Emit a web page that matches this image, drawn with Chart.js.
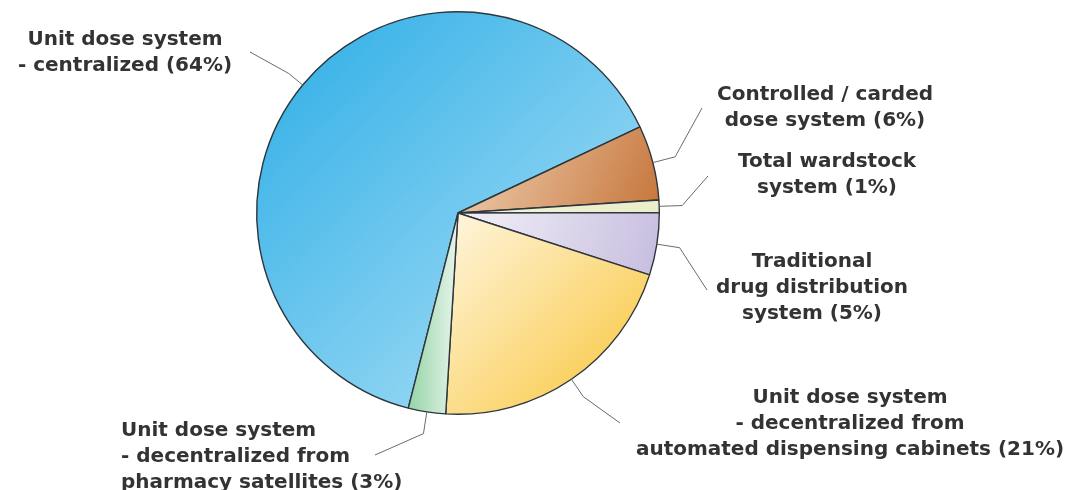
<!DOCTYPE html>
<html>
<head>
<meta charset="utf-8">
<title>Drug distribution systems</title>
<script src="https://cdn.jsdelivr.net/npm/chart.js@4.4.1/dist/chart.umd.min.js"></script>
<style>
    html, body {
        margin: 0;
        padding: 0;
        background: #ffffff;
    }
    #chartBox {
        position: relative;
        width: 1089px;
        height: 490px;
    }
</style>
</head>
<body>
<div id="chartBox">
    <canvas id="distributionChart"></canvas>
</div>

<script>
/* ================= DATA ================= */

const systems = [
    'Unit dose system - centralized',
    'Controlled / carded dose system',
    'Total wardstock system',
    'Traditional drug distribution system',
    'Unit dose system - decentralized from automated dispensing cabinets',
    'Unit dose system - decentralized from pharmacy satellites'
];

const shares = [64, 6, 1, 5, 21, 3];

// label text, the share in brackets is added from shares[]
const labelLines = [
    ['Unit dose system', '- centralized'],
    ['Controlled / carded', 'dose system'],
    ['Total wardstock', 'system'],
    ['Traditional', 'drug distribution', 'system'],
    ['Unit dose system', '- decentralized from', 'automated dispensing cabinets'],
    ['Unit dose system', '- decentralized from', 'pharmacy satellites']
];

// gradient colours: start -> end of each slice
const gradientFrom = ['#2badE6', '#f0d2b6', '#f3f5dc', '#f4f1f8', '#fff6e0', '#94d3a6'];
const gradientTo   = ['#b4e3f7', '#c6753a', '#e9edc8', '#c6bddf', '#f8c435', '#e8f6ec'];

// thin slices get a left -> right gradient instead of the diagonal one
const horizontalGradient = [false, false, false, false, false, true];

/* ================= LABEL LAYOUT ================= */

// text anchor (x, first line y), alignment and where the leader line ends
const labelPos = [
    { x: 125, y: 40,  align: 'center', end: [250, 52] },
    { x: 825, y: 95,  align: 'center', end: [702, 108] },
    { x: 827, y: 162, align: 'center', end: [708, 176] },
    { x: 812, y: 262, align: 'center', end: [707, 290] },
    { x: 850, y: 398, align: 'center', end: [620, 423] },
    { x: 121, y: 431, align: 'left',   end: [375, 455] }
];

const elbowLength = [18, 23, 23, 23, 21, 22];

const ROTATION = 194.3;
const LINE_HEIGHT = 26;

/* ================= SLICE GRADIENT ================= */

function sliceGradient(context) {

    const chart = context.chart;
    const area = chart.chartArea;
    const i = context.dataIndex;

    if (!area || i === undefined) {
        return gradientTo[i] || '#cccccc';
    }

    const cx = (area.left + area.right) / 2;
    const cy = (area.top + area.bottom) / 2;
    const r = Math.min(area.width, area.height) / 2;

    const total = shares.reduce((a, b) => a + b, 0);
    let before = 0;
    for (let k = 0; k < i; k++) before += shares[k];

    const a0 = (ROTATION - 90) * Math.PI / 180 + before / total * 2 * Math.PI;
    const a1 = a0 + shares[i] / total * 2 * Math.PI;

    // bounding box of the sector
    const xs = [cx, cx + r * Math.cos(a0), cx + r * Math.cos(a1)];
    const ys = [cy, cy + r * Math.sin(a0), cy + r * Math.sin(a1)];
    for (let q = Math.ceil(a0 / (Math.PI / 2)); q * Math.PI / 2 <= a1; q++) {
        xs.push(cx + r * Math.cos(q * Math.PI / 2));
        ys.push(cy + r * Math.sin(q * Math.PI / 2));
    }

    const x0 = Math.min(...xs), x1 = Math.max(...xs);
    const y0 = Math.min(...ys), y1 = Math.max(...ys);

    const g = horizontalGradient[i]
        ? chart.ctx.createLinearGradient(x0, y1, x1, y1)
        : chart.ctx.createLinearGradient(x0, y0, x1, y1);

    g.addColorStop(0, gradientFrom[i]);
    g.addColorStop(1, gradientTo[i]);
    return g;
}

/* ================= LABELS + LEADER LINES ================= */

const sliceLabels = {
    id: 'sliceLabels',
    afterDatasetsDraw(chart) {

        const ctx = chart.ctx;
        const meta = chart.getDatasetMeta(0);

        ctx.save();

        meta.data.forEach((arc, i) => {

            const p = arc.getProps(['x', 'y', 'startAngle', 'endAngle', 'outerRadius'], true);
            const mid = (p.startAngle + p.endAngle) / 2;

            const x0 = p.x + Math.cos(mid) * p.outerRadius;
            const y0 = p.y + Math.sin(mid) * p.outerRadius;
            const x1 = x0 + Math.cos(mid) * elbowLength[i];
            const y1 = y0 + Math.sin(mid) * elbowLength[i];

            ctx.strokeStyle = '#6b6b6b';
            ctx.lineWidth = 1;
            ctx.beginPath();
            ctx.moveTo(x0, y0);
            ctx.lineTo(x1, y1);
            ctx.lineTo(labelPos[i].end[0], labelPos[i].end[1]);
            ctx.stroke();

            const lines = labelLines[i].slice();
            lines[lines.length - 1] += ' (' + shares[i] + '%)';

            ctx.fillStyle = '#333333';
            ctx.font = 'bold 20px "DejaVu Sans"';
            ctx.textAlign = labelPos[i].align;
            ctx.textBaseline = 'middle';

            lines.forEach((line, n) => {
                ctx.fillText(line, labelPos[i].x, labelPos[i].y + n * LINE_HEIGHT);
            });
        });

        ctx.restore();
    }
};

/* ================= PIE ================= */

new Chart(document.getElementById('distributionChart'), {

    type: 'pie',

    data: {

        labels: systems,

        datasets: [{

            label: 'Share of hospitals',

            data: shares,

            backgroundColor: sliceGradient,

            borderColor: '#2e363c',

            borderWidth: 1.4

        }]
    },

    options: {

        responsive: true,

        maintainAspectRatio: false,

        animation: false,

        rotation: ROTATION,

        layout: {
            padding: {
                left: 256,
                top: 11,
                right: 429,
                bottom: 75
            }
        },

        plugins: {

            legend: {
                display: false
            },

            tooltip: {
                enabled: false
            }
        }
    },

    plugins: [sliceLabels]

});
</script>
</body>
</html>
